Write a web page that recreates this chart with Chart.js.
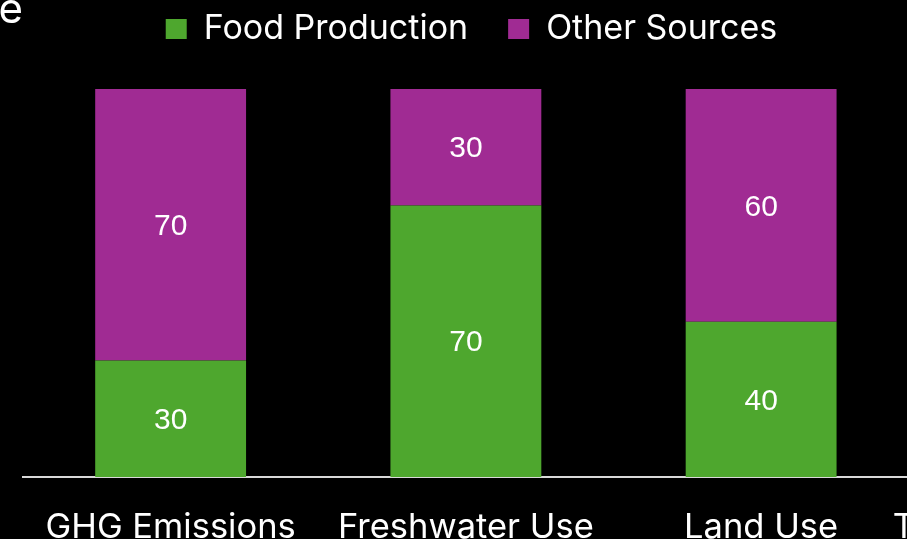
<!DOCTYPE html>
<html>
<head>
<meta charset="utf-8">
<script src="https://cdn.jsdelivr.net/npm/chart.js@4"></script>
<style>
  html, body { margin: 0; padding: 0; background: #000; overflow: hidden; width: 907px; height: 539px; }
  #chart { position: absolute; left: -300px; top: -41px; }
</style>
</head>
<body>
<canvas id="chart" width="1674" height="600"></canvas>
<script>
// the picture is a crop of a wider slide, the 4th category sits off to the right
const categories = ["GHG Emissions", "Freshwater Use", "Land Use", "Threatened Species"];
const foodProduction = [30, 70, 40, null];
const otherSources = [70, 30, 60, null];
const titleText = "Food Production's Share";

const green = "#4EA72E";
const purple = "#A02B93";
const font = "Inter";

const barLabels = {
  id: "barLabels",
  afterDatasetsDraw(chart) {
    const ctx = chart.ctx;
    ctx.save();
    ctx.fillStyle = "#ffffff";
    ctx.font = "30px 'Liberation Sans'";
    ctx.textAlign = "center";
    ctx.textBaseline = "middle";
    chart.data.datasets.forEach((ds, i) => {
      const meta = chart.getDatasetMeta(i);
      meta.data.forEach((bar, j) => {
        if (ds.data[j] == null) return;
        ctx.fillText(ds.data[j], bar.x, (bar.y + bar.base) / 2 + 2);
      });
    });
    ctx.restore();
  },
};

// slide title, only its last letter is inside the crop
const slideTitle = {
  id: "slideTitle",
  afterDraw(chart) {
    const ctx = chart.ctx;
    ctx.save();
    ctx.fillStyle = "#ffffff";
    ctx.font = "42px " + font;
    ctx.textAlign = "right";
    ctx.textBaseline = "alphabetic";
    ctx.fillText(titleText, chart.chartArea.left, 64);
    ctx.restore();
  },
};

// more room between legend and plot
const legendSpace = {
  id: "legendSpace",
  beforeInit(chart) {
    const fit = chart.legend.fit;
    chart.legend.fit = function () {
      fit.bind(chart.legend)();
      this.height = 117;
    };
  },
};

new Chart(document.getElementById("chart"), {
  type: "bar",
  data: {
    labels: categories,
    datasets: [
      { label: "Food Production", data: foodProduction, backgroundColor: green, borderWidth: 0 },
      { label: "Other Sources", data: otherSources, backgroundColor: purple, borderWidth: 0 },
    ],
  },
  options: {
    responsive: false,
    animation: false,
    devicePixelRatio: 1,
    layout: { padding: { left: 39, right: 170, top: 13, bottom: 0 } },
    datasets: { bar: { categoryPercentage: 1, barPercentage: 0.511 } },
    plugins: {
      tooltip: { enabled: false },
      legend: {
        position: "top",
        labels: {
          color: "#ffffff",
          font: { family: font, size: 34 },
          boxWidth: 21,
          boxHeight: 20,
          padding: 40,
        },
      },
    },
    scales: {
      x: {
        stacked: true,
        grid: { display: false },
        border: { display: true, color: "#d9d9d9", width: 2 },
        ticks: {
          color: "#ffffff",
          font: { family: font, size: 34.5 },
          padding: 22,
          autoSkip: false,
          maxRotation: 0,
          minRotation: 0,
        },
        afterFit(scale) {
          scale.height = 82;
        },
      },
      y: {
        stacked: true,
        min: 0,
        max: 100,
        grid: { display: false },
        border: { display: false },
        ticks: { display: false },
        afterFit(scale) {
          scale.width = 284;
        },
      },
    },
  },
  plugins: [barLabels, slideTitle, legendSpace],
});
</script>
</body>
</html>
